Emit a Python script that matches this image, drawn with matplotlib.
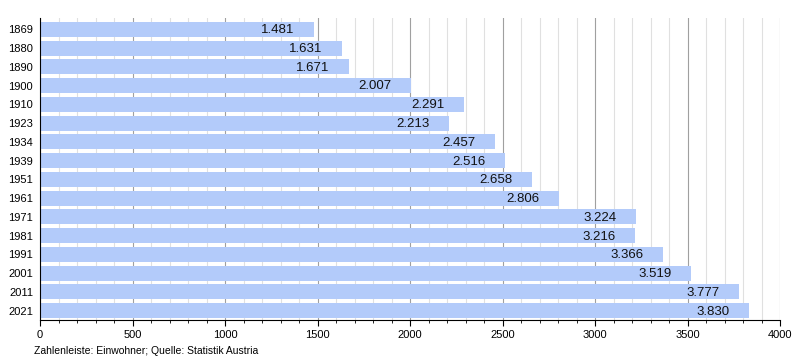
import matplotlib.pyplot as plt
from matplotlib.ticker import MultipleLocator

plt.rcParams["font.family"] = ["Liberation Sans", "DejaVu Sans"]

years = ["1869", "1880", "1890", "1900", "1910", "1923", "1934", "1939", "1951",
         "1961", "1971", "1981", "1991", "2001", "2011", "2021"]
population = [1481, 1631, 1671, 2007, 2291, 2213, 2457, 2516, 2658,
              2806, 3224, 3216, 3366, 3519, 3777, 3830]

fig = plt.figure(figsize=(8, 3.6), dpi=100)
ax = fig.add_axes([0.05, 0.111, 0.925, 0.839])

pos = list(range(len(years)))
ax.barh(pos, population, height=0.8, color="#b3cbfa", zorder=2)

for p, v in zip(pos, population):
    label = f"{v:,}".replace(",", ".")
    ax.text(v - 105, p + 0.05, label, ha="right", va="center", fontsize=9.5,
            color="#111111", zorder=3)

ax.set_xlim(0, 4000)
ax.set_ylim(len(years) - 0.5, -0.6)
ax.set_yticks(pos)
ax.set_yticklabels(years, fontsize=8)
ax.tick_params(axis="y", length=0, pad=5)

ax.xaxis.set_major_locator(MultipleLocator(500))
ax.xaxis.set_minor_locator(MultipleLocator(100))
ax.tick_params(axis="x", which="major", labelsize=8, length=4, direction="out")
ax.tick_params(axis="x", which="minor", length=2)
ax.grid(axis="x", which="major", color="#a0a0a0", linewidth=0.8, zorder=0)
ax.grid(axis="x", which="minor", color="#e0e0e0", linewidth=0.8, zorder=0)

for s in ["top", "right"]:
    ax.spines[s].set_visible(False)
ax.spines["left"].set_linewidth(0.8)
ax.spines["bottom"].set_linewidth(0.8)

fig.text(0.043, 0.018, "Zahlenleiste: Einwohner; Quelle: Statistik Austria", fontsize=7.5)

fig.savefig("out.png")
